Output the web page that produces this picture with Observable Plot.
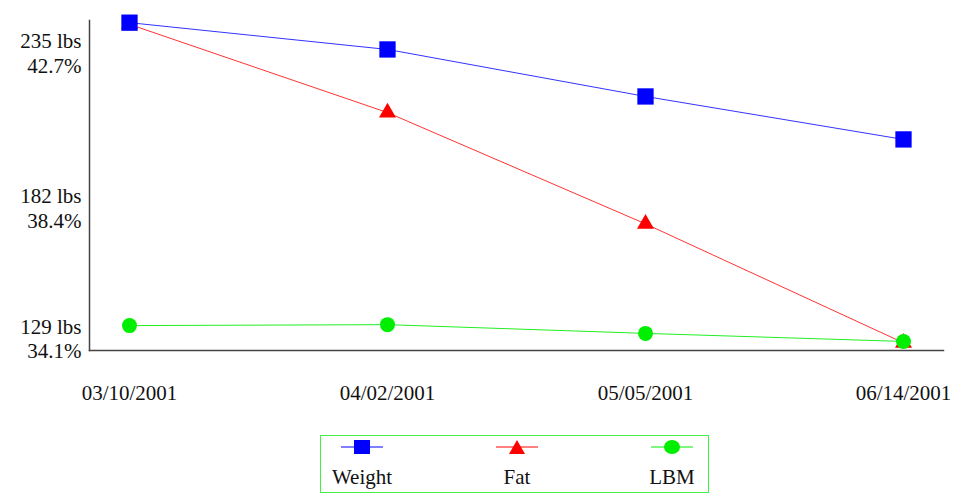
<!DOCTYPE html>
<html>
<head>
<meta charset="utf-8">
<script src="https://cdn.jsdelivr.net/npm/d3@7"></script>
<script src="https://cdn.jsdelivr.net/npm/@observablehq/plot@0.6"></script>
<style>
  html, body { margin: 0; padding: 0; background: #fff; }
  #wrap { position: relative; width: 963px; height: 499px; font-family: "Liberation Serif", "Times New Roman", serif; }
  #legend { position: absolute; left: 320px; top: 435px; width: 387px; height: 56px; border: 1.5px solid #44ee44; }
  .item { position: absolute; top: 0; width: 90px; margin-left: -45px; text-align: center; }
  .item svg { display: block; margin: 3px auto 0 auto; }
  .item span { display: block; font-size: 21px; color: #111; margin-top: 12px; line-height: 21px; }
</style>
</head>
<body>
<div id="wrap"></div>
<script>
// ---- data ----
const dates = ["03/10/2001", "04/02/2001", "05/05/2001", "06/14/2001"];
const weight = [234.3, 225.7, 210.6, 196.8];   // lbs
const fat = [42.6, 40.3, 37.4, 34.3];          // percent
const lbm = [137.0, 137.3, 134.5, 131.9];      // lbs
const lbsTicks = [235, 182, 129];
const pctTicks = ["42.7", "38.4", "34.1"];

// fat percent axis shares the frame with the lbs axis: 34.1% ↔ 129 lbs, 42.7% ↔ 235 lbs
const pctToLbs = p => 129 + (p - 34.1) * (235 - 129) / (42.7 - 34.1);

const rows = dates.map((d, i) => ({date: d, weight: weight[i], fat: pctToLbs(fat[i]), lbm: lbm[i]}));

const blue = "#0000ff", red = "#ff0000", green = "#00ee00";
const lbsDy = [21, 11, -23];
const pctDy = [46, 36, 1];

const chart = Plot.plot({
  width: 963,
  height: 420,
  marginLeft: 89,
  marginRight: 20,
  marginTop: 20,
  marginBottom: 70,
  style: {fontFamily: "'Liberation Serif', 'Times New Roman', serif", fontSize: "21px", color: "#111", background: "#fff"},
  x: {type: "point", domain: dates, padding: 0.153, axis: null},
  y: {domain: [129, 235], axis: null},
  marks: [
    Plot.frame({anchor: "left", stroke: "#444", strokeWidth: 1.5}),
    Plot.frame({anchor: "bottom", stroke: "#444", strokeWidth: 1.5}),
    Plot.axisX({tickSize: 0, tickPadding: 35, fontSize: 21, label: null}),
    ...lbsTicks.map((t, i) => Plot.text([t], {y: d => d, text: d => `${d} lbs`, frameAnchor: "left", textAnchor: "end", dx: -8, dy: lbsDy[i], fill: "#111", fontSize: 21})),
    ...pctTicks.map((p, i) => Plot.text([lbsTicks[i]], {y: d => d, text: () => `${p}%`, frameAnchor: "left", textAnchor: "end", dx: -8, dy: pctDy[i], fill: "#111", fontSize: 21})),
    Plot.line(rows, {x: "date", y: "weight", stroke: "#3333ff", strokeWidth: 1}),
    Plot.line(rows, {x: "date", y: "fat", stroke: "#ff3333", strokeWidth: 1}),
    Plot.line(rows, {x: "date", y: "lbm", stroke: "#22ee22", strokeWidth: 1}),
    Plot.dot(rows, {x: "date", y: "fat", symbol: "triangle", r: 6.3, fill: red, stroke: null}),
    Plot.dot(rows, {x: "date", y: "lbm", symbol: "circle", r: 7.5, fill: green, stroke: null}),
    Plot.dot(rows, {x: "date", y: "weight", symbol: "square", r: 9.2, fill: blue, stroke: null})
  ]
});
document.getElementById("wrap").appendChild(chart);

// ---- legend ----
const legendItems = [
  {label: "Weight", color: blue, shape: "square", cx: 41},
  {label: "Fat", color: red, shape: "triangle", cx: 196},
  {label: "LBM", color: green, shape: "circle", cx: 351}
];
const legend = document.createElement("div");
legend.id = "legend";
for (const it of legendItems) {
  const div = document.createElement("div");
  div.className = "item";
  div.style.left = it.cx + "px";
  let sym;
  if (it.shape === "square") sym = `<rect x="13" y="1" width="16" height="14" fill="${it.color}"/>`;
  else if (it.shape === "triangle") sym = `<path d="M21,1 L29,15 L13,15 Z" fill="${it.color}"/>`;
  else sym = `<ellipse cx="21" cy="8" rx="8" ry="7" fill="${it.color}"/>`;
  div.innerHTML = `<svg width="42" height="16"><line x1="0" x2="42" y1="8" y2="8" stroke="${it.color}" stroke-width="1"/>${sym}</svg><span>${it.label}</span>`;
  legend.appendChild(div);
}
document.getElementById("wrap").appendChild(legend);
</script>
</body>
</html>
